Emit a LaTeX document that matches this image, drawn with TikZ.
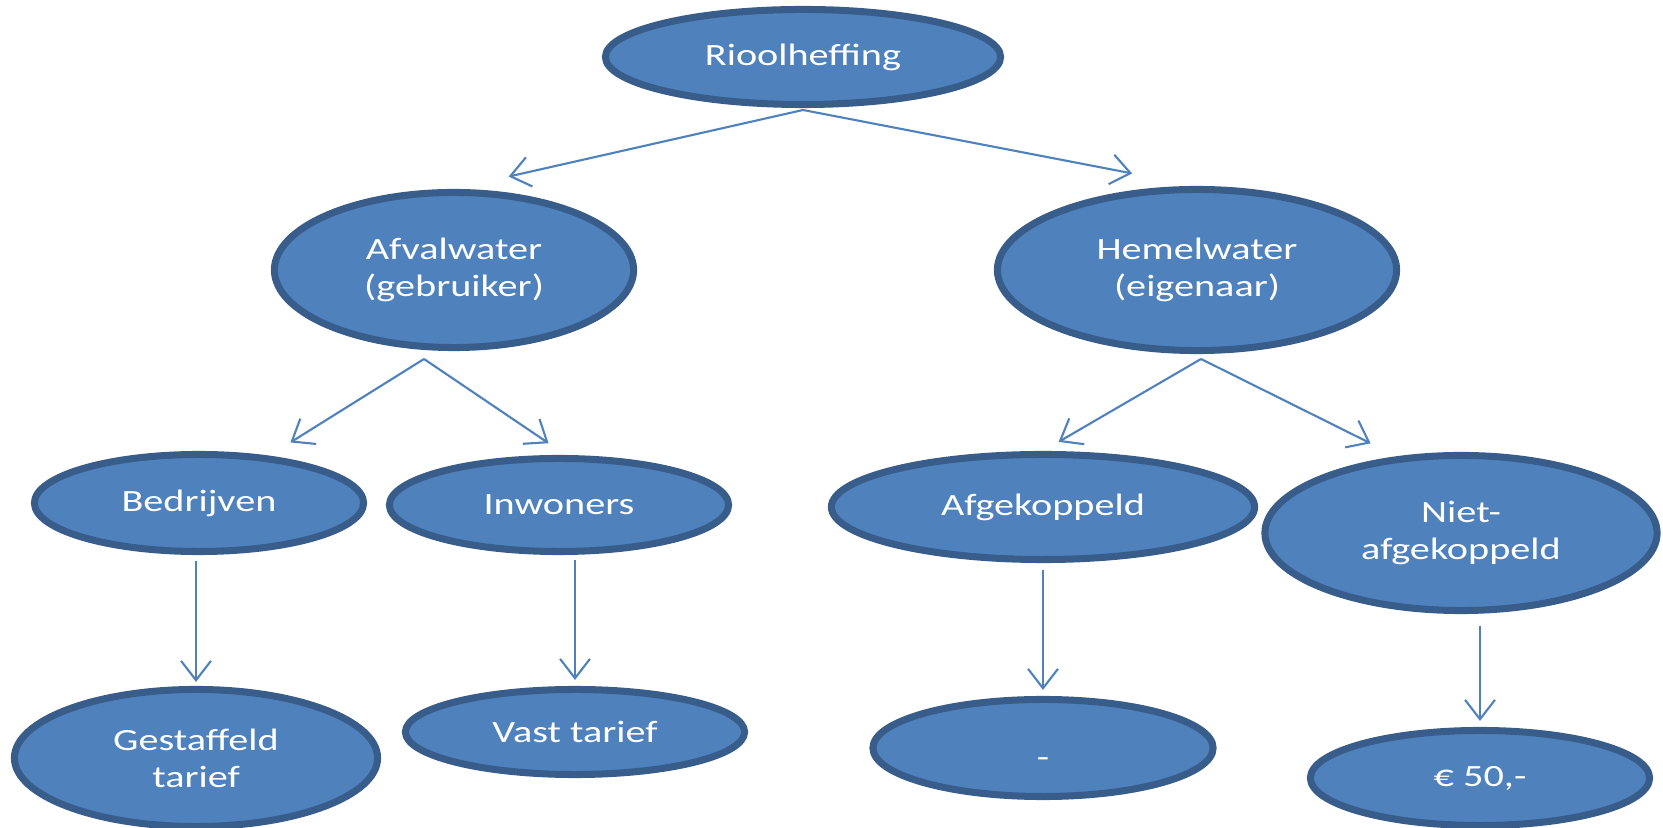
\documentclass[tikz,border=0pt]{standalone}
\usepackage{fontspec}
\setmainfont{Carlito}[FakeStretch=1.3]
\usepackage{xcolor}
\usepackage{tikz}
\usetikzlibrary{shapes.geometric, arrows.meta, positioning}

\definecolor{vulblauw}{HTML}{4F81BD}
\definecolor{randblauw}{HTML}{385D8A}

\begin{document}
\begin{tikzpicture}[
    x=0.01cm,
    y=-0.01cm,
    bol/.style={
        ellipse,
        draw=randblauw,
        line width=2pt,
        fill=vulblauw,
        text=white,
        inner sep=0pt,
        align=center,
        font=\fontsize{8.8}{10.5}\selectfont
    },
    link/.style={
        ->,
        >={Straight Barb[length=5.5pt, width=8.5pt]},
        draw=vulblauw,
        line width=0.6pt
    }
]
  \useasboundingbox (0,0) rectangle (1663,828);

  \node[bol, minimum width=3.95cm, minimum height=0.95cm] (riool) at (803,57) {Rioolheffing};
  \node[bol, minimum width=3.59cm, minimum height=1.55cm] (afval) at (454,270) {Afvalwater\\(gebruiker)};
  \node[bol, minimum width=3.99cm, minimum height=1.61cm] (hemel) at (1197,270) {Hemelwater\\(eigenaar)};
  \node[bol, minimum width=3.29cm, minimum height=0.97cm] (bedr) at (199,503) {Bedrijven};
  \node[bol, minimum width=3.39cm, minimum height=0.93cm] (inwo) at (559,505) {Inwoners};
  \node[bol, minimum width=4.23cm, minimum height=1.05cm] (afgek) at (1043,507) {Afgekoppeld};
  \node[bol, minimum width=3.92cm, minimum height=1.55cm] (niet) at (1461,533) {Niet-\\afgekoppeld};
  \node[bol, minimum width=3.63cm, minimum height=1.37cm] (gest) at (196,758) {Gestaffeld\\tarief};
  \node[bol, minimum width=3.39cm, minimum height=0.85cm] (vast) at (575,732) {Vast tarief};
  \node[bol, minimum width=3.40cm, minimum height=0.97cm, text height=11pt, text depth=0pt] (leeg) at (1043,748) {-};
  \node[bol, minimum width=3.39cm, minimum height=0.95cm] (euro) at (1480,778) {€ 50,-};

  \coordinate (rioolsplit) at (803,110);
  \coordinate (afvalsplit) at (424,359);
  \coordinate (hemelsplit) at (1201,359);

  \draw[link, shorten >=0.56cm] (rioolsplit) -- (afval.north);
  \draw[link, shorten >=0.66cm] (rioolsplit) -- (hemel.north);

  \draw[link, shorten >=0.25cm] (afvalsplit) -- (bedr.34);
  \draw[link, shorten >=0.21cm] (afvalsplit) -- (inwo.82);
  \draw[link, shorten >=0.18cm] (hemelsplit) -- (afgek.north);
  \draw[link, shorten >=0.29cm] (hemelsplit) -- (niet.130);

  \draw[link, shorten <=0.06cm, shorten >=0.04cm] (gest.north |- bedr.south) -- (gest.north);
  \draw[link, shorten <=0.05cm, shorten >=0.06cm] (vast.north |- inwo.south) -- (vast.north);
  \draw[link, shorten <=0.07cm, shorten >=0.06cm] (leeg.north |- afgek.south) -- (leeg.north);
  \draw[link, shorten <=0.12cm, shorten >=0.06cm] (euro.north |- niet.south) -- (euro.north);
\end{tikzpicture}
\end{document}
